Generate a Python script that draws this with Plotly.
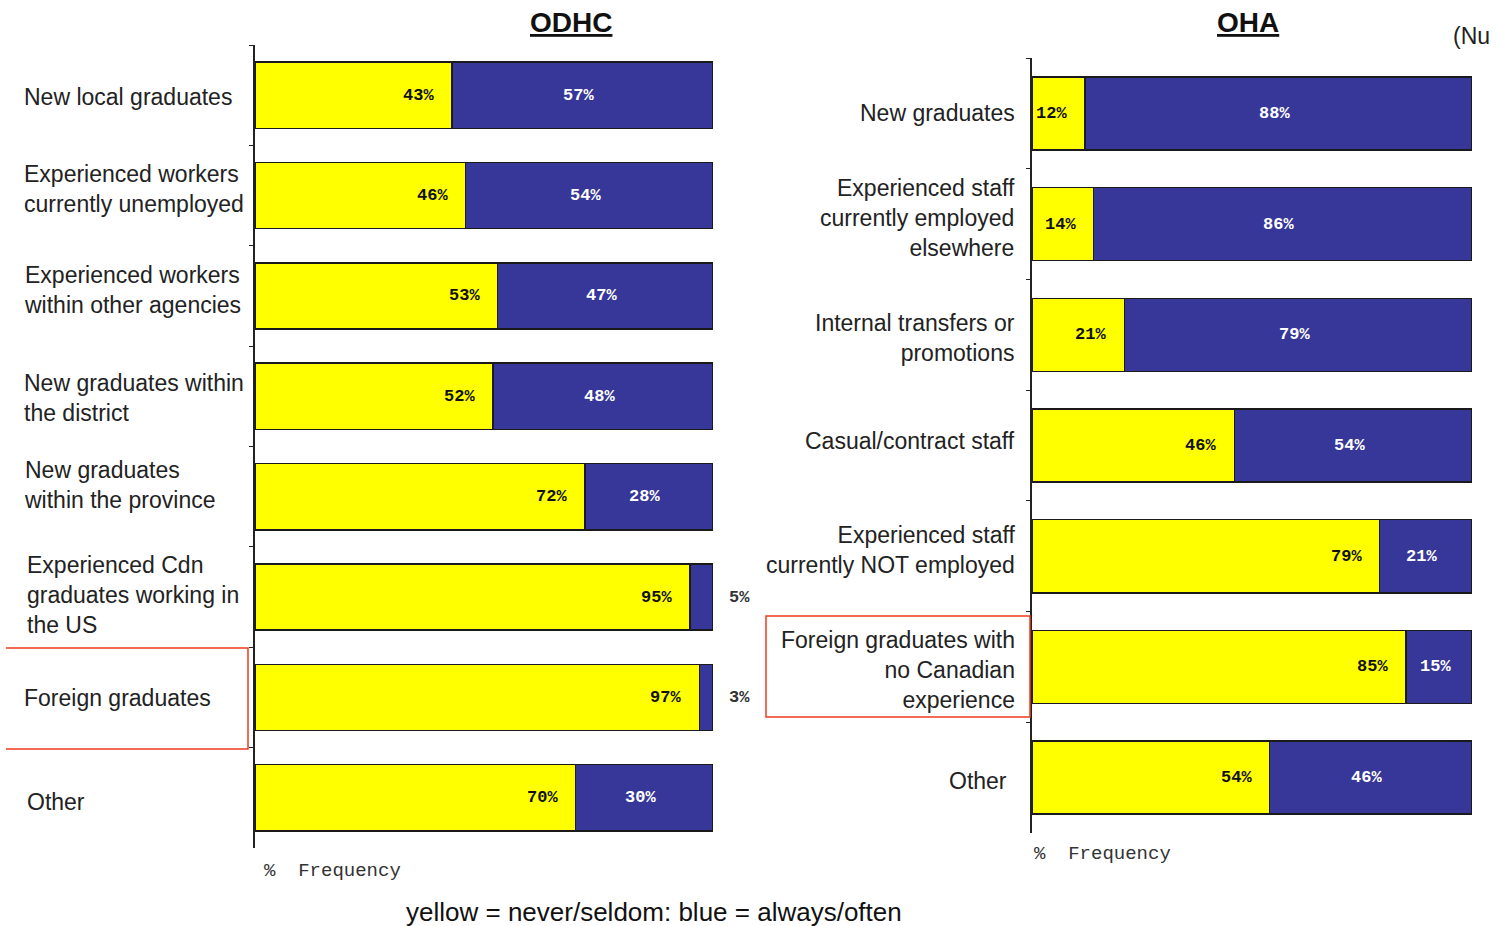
import plotly.graph_objects as go

W, H = 1502, 926

# ---------------- data ----------------
cats_odhc = [
    "New local graduates",
    "Experienced workers<br>currently unemployed",
    "Experienced workers<br>within other agencies",
    "New graduates within<br>the district",
    "New graduates<br>within the province",
    "Experienced Cdn<br>graduates working in<br>the US",
    "Foreign graduates",
    "Other",
]
yellow_odhc = [43, 46, 53, 52, 72, 95, 97, 70]
blue_odhc = [57, 54, 47, 48, 28, 5, 3, 30]

cats_oha = [
    "New graduates",
    "Experienced staff<br>currently employed<br>elsewhere",
    "Internal transfers or<br>promotions",
    "Casual/contract staff",
    "Experienced staff<br>currently NOT employed",
    "Foreign graduates with<br>no Canadian<br>experience",
    "Other",
]
yellow_oha = [12, 14, 21, 46, 79, 85, 54]
blue_oha = [88, 86, 79, 54, 21, 15, 46]

titles = ["ODHC", "OHA"]
footer = "yellow = never/seldom: blue = always/often"
freq_label = "%  Frequency"
corner_text = "(Nu"

# label placement tweaks (pixels)
shift_odhc = [-2, 7, 6, -2, 12, 2, -1, -4]
xoff_odhc = [0, 0, 0, 0, 0, 3, 0, 3]
shift_oha = [0, 6, -3, 5, 6, -3, -3]
xoff_oha = [0, 0, 0, 0, 0, 0, -8]

YELLOW = "#FFFF00"
BLUE = "#363798"
EDGE = "#1a1a1a"
TXT = "#222222"
LABEL_FONT = "Liberation Sans"
MONO = "Liberation Mono"


def px(x):
    return x / W


def py(y):
    return 1 - y / H


fig = go.Figure()

panels = [
    dict(cats=cats_odhc, yel=yellow_odhc, blu=blue_odhc, xa="x", ya="y"),
    dict(cats=cats_oha, yel=yellow_oha, blu=blue_oha, xa="x2", ya="y2"),
]

for p in panels:
    ids = [f"{p['ya']}_{i}" for i in range(len(p["cats"]))]
    p["ids"] = ids
    fig.add_trace(go.Bar(
        y=ids, x=p["yel"], orientation="h", xaxis=p["xa"], yaxis=p["ya"],
        marker=dict(color=YELLOW, line=dict(color=EDGE, width=1.5)),
        showlegend=False, hoverinfo="skip",
    ))
    fig.add_trace(go.Bar(
        y=ids, x=p["blu"], orientation="h", xaxis=p["xa"], yaxis=p["ya"],
        marker=dict(color=BLUE, line=dict(color=EDGE, width=1.5)),
        showlegend=False, hoverinfo="skip",
    ))

annotations = []
for p in panels:
    for i, cid in enumerate(p["ids"]):
        yv, bv = p["yel"][i], p["blu"][i]
        annotations.append(dict(
            x=yv, y=cid, xref=p["xa"], yref=p["ya"], text=f"<b>{yv}%</b>",
            showarrow=False, xanchor="right", xshift=-16,
            font=dict(family=MONO, size=17, color="#111111"),
        ))
        if bv >= 10:
            annotations.append(dict(
                x=yv + bv / 2, y=cid, xref=p["xa"], yref=p["ya"], text=f"<b>{bv}%</b>",
                showarrow=False, xanchor="center", xshift=-4,
                font=dict(family=MONO, size=17, color="#ffffff"),
            ))
        else:
            annotations.append(dict(
                x=yv + bv, y=cid, xref=p["xa"], yref=p["ya"], text=f"<b>{bv}%</b>",
                showarrow=False, xanchor="left", xshift=14,
                font=dict(family=MONO, size=17, color="#333333"),
            ))

# category labels
for i, c in enumerate(cats_odhc):
    annotations.append(dict(
        x=px(22), y=panels[0]["ids"][i], xref="paper", yref="y", text=c,
        showarrow=False, xanchor="left", align="left", yanchor="middle",
        yshift=shift_odhc[i], xshift=xoff_odhc[i],
        font=dict(family=LABEL_FONT, size=23, color=TXT),
    ))
for i, c in enumerate(cats_oha):
    annotations.append(dict(
        x=px(1017), y=panels[1]["ids"][i], xref="paper", yref="y2", text=c,
        showarrow=False, xanchor="right", align="right", yanchor="middle",
        yshift=shift_oha[i], xshift=xoff_oha[i],
        font=dict(family=LABEL_FONT, size=23, color=TXT),
    ))


def paper_text(x, y, text, size, family, color, xanchor="center"):
    annotations.append(dict(x=px(x), y=py(y), xref="paper", yref="paper",
                            text=text, showarrow=False, xanchor=xanchor,
                            yanchor="middle",
                            font=dict(family=family, size=size, color=color)))


paper_text(571, 23, f"<b><u>{titles[0]}</u></b>", 28, LABEL_FONT, "#111111")
paper_text(1248, 23, f"<b><u>{titles[1]}</u></b>", 28, LABEL_FONT, "#111111")
paper_text(1451, 36, corner_text, 23, LABEL_FONT, TXT, xanchor="left")
paper_text(262, 871, freq_label, 19, MONO, "#333333", xanchor="left")
paper_text(1032, 854, freq_label, 19, MONO, "#333333", xanchor="left")
paper_text(654, 912, footer, 26, "Liberation Sans", "#111111")

RED = "#F03A1E"
shapes = [
    dict(type="path", xref="paper", yref="paper",
         path=f"M {px(6)},{py(648)} L {px(248)},{py(648)} L {px(248)},{py(749)} L {px(6)},{py(749)}",
         line=dict(color=RED, width=1.5)),
    dict(type="rect", xref="paper", yref="paper",
         x0=px(766), x1=px(1030), y0=py(616), y1=py(717),
         line=dict(color=RED, width=1.5)),
]

yaxis_common = dict(
    type="category", autorange="reversed", showticklabels=False,
    showline=True, linecolor="#222222", linewidth=1.5,
    ticks="outside", tickson="boundaries", ticklen=4, tickcolor="#222222",
    showgrid=False, zeroline=False, fixedrange=True,
)
xaxis_common = dict(range=[0, 100], visible=False, showgrid=False, zeroline=False)

fig.update_layout(
    width=W, height=H,
    margin=dict(l=0, r=0, t=0, b=0),
    paper_bgcolor="white", plot_bgcolor="white",
    barmode="stack",
    xaxis=dict(domain=[px(255), px(713)], anchor="y", **xaxis_common),
    yaxis=dict(domain=[py(848), py(45)], anchor="x", categoryorder="array",
               categoryarray=panels[0]["ids"], **yaxis_common),
    xaxis2=dict(domain=[px(1032), px(1472)], anchor="y2", **xaxis_common),
    yaxis2=dict(domain=[py(833), py(58)], anchor="x2", categoryorder="array",
                categoryarray=panels[1]["ids"], **yaxis_common),
    bargap=0.34,
    annotations=annotations,
    shapes=shapes,
)

fig.write_html("out.html")
